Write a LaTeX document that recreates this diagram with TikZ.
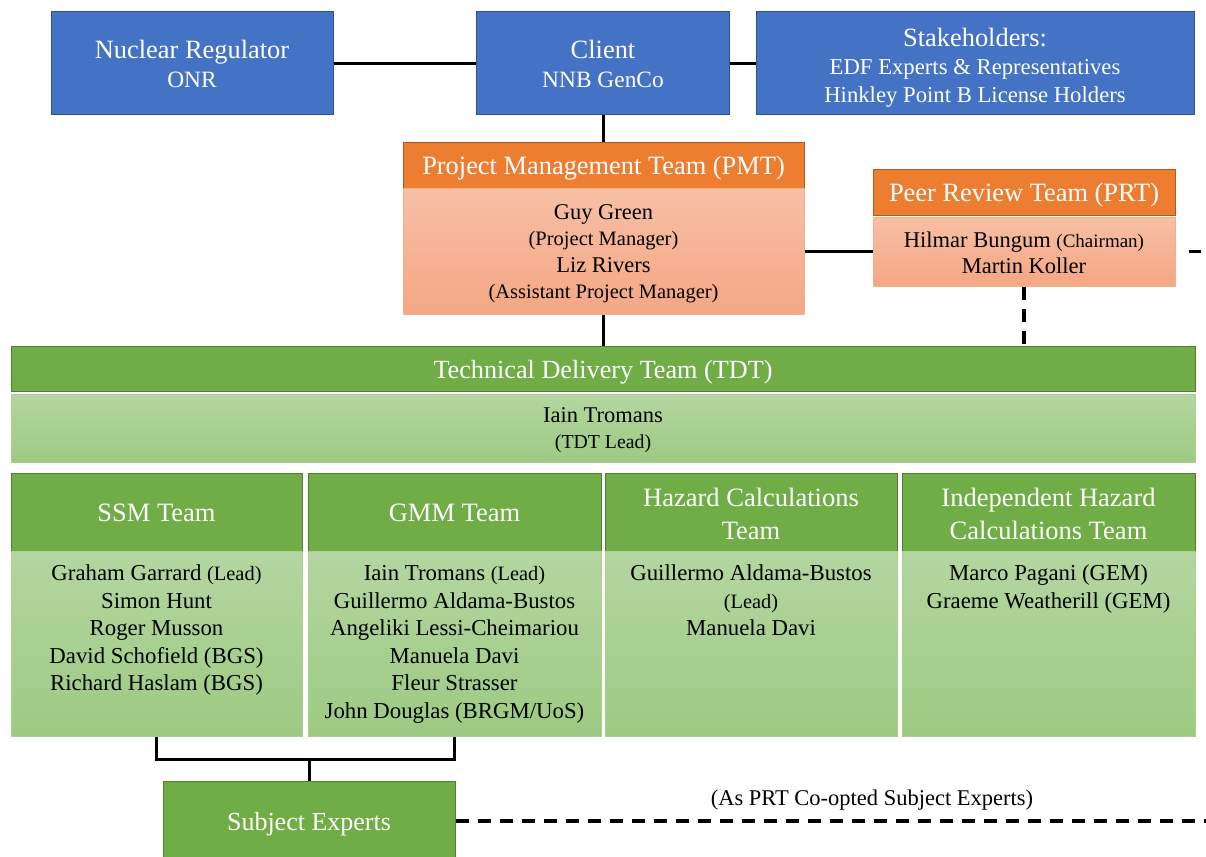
\documentclass[tikz,border=0pt]{standalone}
\usepackage{fontspec}
\setmainfont{Liberation Serif}
\newcommand{\myfs}[2]{\fontsize{#1}{#2}\selectfont}
\newcommand{\tstrut}[1]{\rule{0pt}{#1}}
\definecolor{blueF}{HTML}{4472C4}
\definecolor{blueD}{HTML}{2F528F}
\definecolor{orF}{HTML}{ED7D31}
\definecolor{orD}{HTML}{AE5A21}
\definecolor{orTop}{HTML}{F7BFA5}
\definecolor{orBot}{HTML}{F4A784}
\definecolor{orBd}{HTML}{F4B183}
\definecolor{grF}{HTML}{70AD47}
\definecolor{grD}{HTML}{507E32}
\definecolor{grTop}{HTML}{B4D6A1}
\definecolor{grBot}{HTML}{9DCA82}
\definecolor{grBd}{HTML}{A9D18E}
\begin{document}
\begin{tikzpicture}[x=1pt,y=-1pt,
  bluebox/.style={draw=blueD, fill=blueF, text=white, line width=1pt, inner sep=0pt, align=center},
  orH/.style={draw=orD, fill=orF, text=white, line width=1pt, inner sep=0pt, align=center, font=\myfs{26.4}{30}, text height=19pt, text depth=0pt},
  orB/.style={draw=orBd, top color=orTop, bottom color=orBot, line width=1pt, inner sep=0pt, align=center},
  grH/.style={draw=grD, fill=grF, text=white, line width=1pt, inner sep=0pt, align=center},
  grB/.style={draw=grBd, top color=grTop, bottom color=grBot, line width=1pt, inner sep=0pt, align=center},
  oneline/.style={text height=19pt, text depth=0pt},
  names/.style={inner sep=0pt, align=center, font=\myfs{22.8}{27.5}},
  conn/.style={line width=3pt},
  dconn/.style={line width=3.5pt, dash pattern=on 13pt off 9pt}
]
\useasboundingbox (0,0) rectangle (1206,856);

% top row
\node[bluebox, minimum width=282pt, minimum height=103pt, font=\myfs{23.4}{29}] (nr) at (192,63.5)
  {{\myfs{26.4}{29}\tstrut{20pt}Nuclear Regulator}\\ONR};
\node[bluebox, minimum width=253pt, minimum height=103pt, font=\myfs{23.4}{29}] (client) at (603,63.5)
  {{\myfs{26.4}{29}\tstrut{20pt}Client}\\NNB GenCo};
\node[bluebox, minimum width=438pt, minimum height=103pt, font=\myfs{22.7}{28}] (stake) at (975,63.5)
  {{\myfs{26.4}{28}\tstrut{27pt}Stakeholders:}\\EDF Experts \& Representatives\\Hinkley Point B License Holders};

% PMT
\node[orH, minimum width=401pt, minimum height=46pt] (pmth) at (603.5,165) {Project Management Team (PMT)};
\node[orB, minimum width=401pt, minimum height=126pt, font=\myfs{20.5}{26.5}] (pmtb) at (603.5,251)
  {{\myfs{22.5}{26.5}\tstrut{20.5pt}Guy Green}\\(Project Manager)\\{\myfs{22.5}{26.5}Liz Rivers}\\(Assistant Project Manager)};

% PRT
\node[orH, minimum width=302pt, minimum height=46pt] (prth) at (1024,192) {Peer Review Team (PRT)};
\node[orB, minimum width=302pt, minimum height=69pt, font=\myfs{22.5}{26}] (prtb) at (1024,251.5)
  {\tstrut{17.5pt}Hilmar Bungum {\myfs{19}{26}(Chairman)}\\Martin Koller};

% TDT
\node[grH, minimum width=1184pt, minimum height=45pt, font=\myfs{26.2}{30}, oneline] (tdth) at (603,368.5) {Technical Delivery Team (TDT)};
\node[grB, minimum width=1184pt, minimum height=68pt, font=\myfs{19.8}{26}] (tdtb) at (603,428)
  {{\myfs{22.5}{26}\tstrut{19pt}Iain Tromans}\\(TDT Lead)};

% team headers
\node[grH, minimum width=291pt, minimum height=78pt, font=\myfs{26.5}{33}, oneline] (ssmh) at (156.5,512) {SSM Team};
\node[grH, minimum width=293pt, minimum height=78pt, font=\myfs{26.5}{33}, oneline] (gmmh) at (454.5,512) {GMM Team};
\node[grH, minimum width=292pt, minimum height=78pt, font=\myfs{26.5}{32.5}] (hazh) at (751,512) {\tstrut{22.5pt}Hazard Calculations\\Team};
\node[grH, minimum width=293pt, minimum height=78pt, font=\myfs{26.5}{32.5}] (indh) at (1048.5,512) {\tstrut{22.5pt}Independent Hazard\\Calculations Team};

% team bodies
\node[grB, minimum width=291pt, minimum height=185pt] (ssmb) at (156.5,643.5) {};
\node[grB, minimum width=293pt, minimum height=185pt] (gmmb) at (454.5,643.5) {};
\node[grB, minimum width=292pt, minimum height=185pt] (hazb) at (751,643.5) {};
\node[grB, minimum width=293pt, minimum height=185pt] (indb) at (1048.5,643.5) {};

\node[names, anchor=north] (ssmt) at ([yshift=-13.8pt]ssmb.north)
  {\tstrut{16pt}Graham Garrard {\myfs{20.4}{27.5}(Lead)}\\Simon Hunt\\Roger Musson\\David Schofield (BGS)\\Richard Haslam (BGS)};
\node[names, anchor=north] (gmmt) at ([yshift=-13.8pt]gmmb.north)
  {\tstrut{16pt}Iain Tromans {\myfs{20.4}{27.5}(Lead)}\\Guillermo Aldama-Bustos\\Angeliki Lessi-Cheimariou\\Manuela Davi\\Fleur Strasser\\John Douglas (BRGM/UoS)};
\node[names, anchor=north] (hazt) at ([yshift=-13.8pt]hazb.north)
  {\tstrut{16pt}Guillermo Aldama-Bustos\\{\myfs{20.4}{27.5}(Lead)}\\Manuela Davi};
\node[names, anchor=north] (indt) at ([yshift=-13.8pt]indb.north)
  {\tstrut{16pt}Marco Pagani (GEM)\\Graeme Weatherill (GEM)};

% subject experts
\node[grH, minimum width=292pt, minimum height=80pt, font=\myfs{26}{30}, oneline] (subj) at (309,821) {Subject Experts};
\node[inner sep=0pt, font=\myfs{22.5}{27}] (lbl) at (872,800) {(As PRT Co-opted Subject Experts)};

% coordinates
\coordinate (jn) at (309,759);
\coordinate (prtEnd) at (1210,251.5);
\coordinate (botEnd) at (1210,821);

% connectors
\draw[conn] (nr.east) -- (client.west);
\draw[conn] (client.east) -- (stake.west);
\draw[conn] (client.south) -- (client.south |- pmth.north);
\draw[conn] (pmtb.south) -- (pmtb.south |- tdth.north);
\draw[conn] (pmtb.east |- prtb.west) -- (prtb.west);
\draw[dconn] (prtb.south) -- (prtb.south |- tdth.north);
\draw[dconn, dash pattern=on 12pt off 13pt, dash phase=12pt] (prtb.east) -- (prtEnd);
\draw[conn] (ssmb.south) |- (jn) -| (gmmb.south);
\draw[conn] (jn) -- (subj.north);
\draw[dconn] (subj.east) -- (botEnd);
\end{tikzpicture}
\end{document}
